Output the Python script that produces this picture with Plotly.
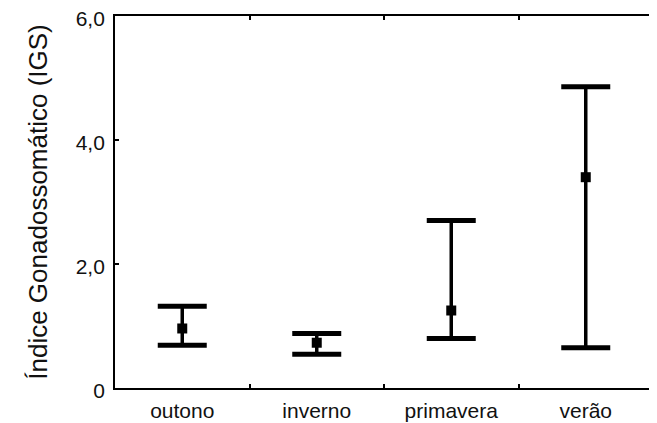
import plotly.graph_objects as go

categories = ["outono", "inverno", "primavera", "verão"]
mean_igs = [0.96, 0.73, 1.25, 3.40]
upper_igs = [1.32, 0.88, 2.70, 4.86]
lower_igs = [0.69, 0.545, 0.80, 0.65]
ytick_vals = [0, 2, 4, 6]
ytick_text = ["0", "2,0", "4,0", "6,0"]

err_plus = [u - m for u, m in zip(upper_igs, mean_igs)]
err_minus = [m - l for m, l in zip(mean_igs, lower_igs)]

fig = go.Figure()
# vertical whiskers
fig.add_trace(go.Scatter(
    x=categories, y=mean_igs, mode="markers",
    marker=dict(symbol="square", size=10, color="black"),
    error_y=dict(type="data", symmetric=False, array=err_plus, arrayminus=err_minus,
                 color="black", thickness=3.5, width=0),
    showlegend=False, hoverinfo="skip"))
# caps
fig.add_trace(go.Scatter(
    x=categories + categories, y=upper_igs + lower_igs, mode="markers",
    marker=dict(symbol="line-ew", size=35, line=dict(color="black", width=5)),
    showlegend=False, hoverinfo="skip"))

font_main = "Liberation Sans, Arial, sans-serif"
fig.update_layout(
    width=649, height=415,
    margin=dict(l=107, r=4, t=8, b=35),
    paper_bgcolor="white", plot_bgcolor="white",
    font=dict(family=font_main, size=21, color="#111"),
    xaxis=dict(type="category", categoryorder="array", categoryarray=categories,
               range=[-0.5, 3.5], tickson="boundaries", ticks="inside", ticklen=4,
               tickwidth=1.5, tickcolor="black", automargin=False,
               showline=True, linecolor="black", linewidth=1.8, mirror="ticks",
               showgrid=False, zeroline=False, ticklabelstandoff=3,
               ticklabeloverflow="allow",
               tickfont=dict(family=font_main, size=21, color="#111")),
    yaxis=dict(range=[0, 6], tickvals=ytick_vals, ticktext=ytick_text,
               ticks="inside", ticklen=4, tickwidth=1.5, tickcolor="black",
               automargin=False, ticklabeloverflow="allow", ticklabelshift=3,
               showline=True, linecolor="black", linewidth=1.8, mirror="ticks",
               showgrid=False, zeroline=False, ticklabelstandoff=4,
               tickfont=dict(family=font_main, size=21, color="#111")),
)
fig.update_yaxes(title=dict(text="Índice Gonadossomático (IGS)", standoff=21,
                            font=dict(family=font_main, size=26, color="#111")))

fig.write_html("out.html")
